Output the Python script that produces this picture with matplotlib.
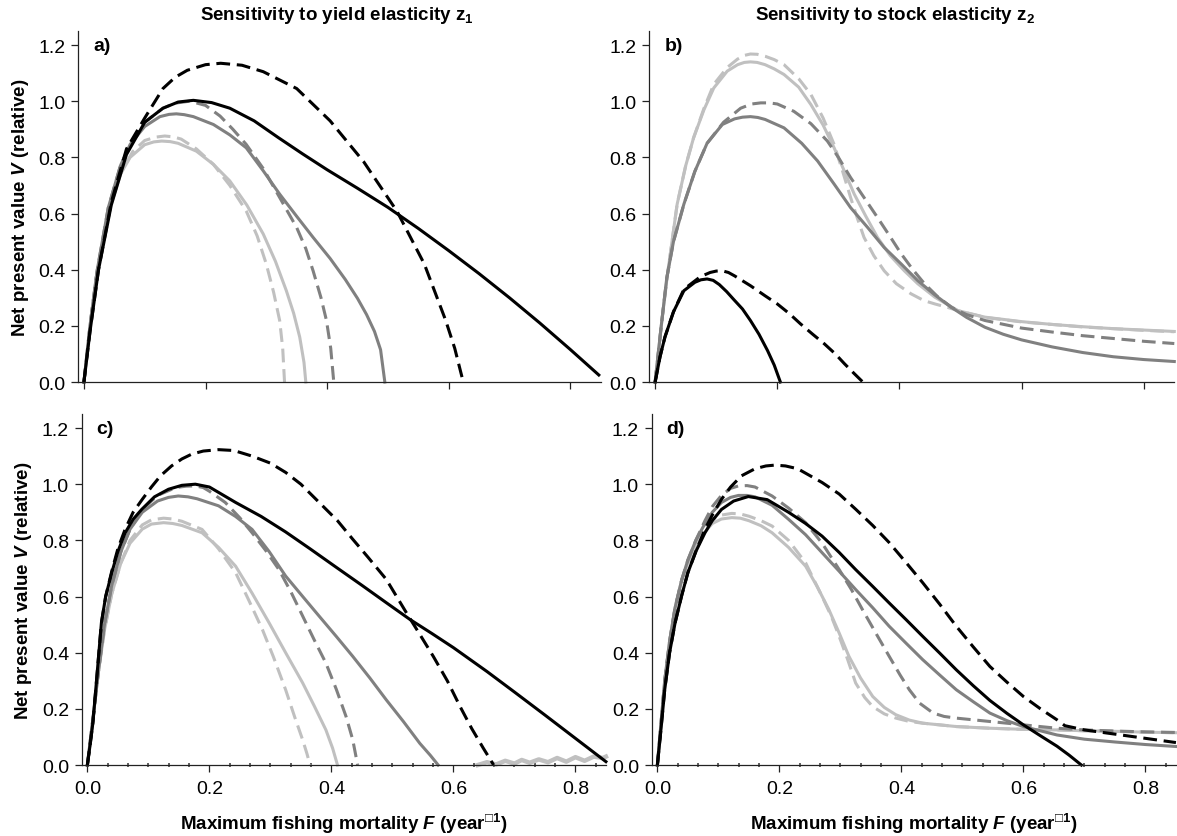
import matplotlib
matplotlib.use("Agg")
import matplotlib.pyplot as plt
from matplotlib.ticker import MultipleLocator

plt.rcParams['font.family'] = ['Liberation Sans', 'DejaVu Sans']
plt.rcParams['mathtext.fontset'] = 'custom'
plt.rcParams['mathtext.rm'] = 'Liberation Sans:bold'
plt.rcParams['mathtext.bf'] = 'Liberation Sans:bold'
plt.rcParams['mathtext.it'] = 'Liberation Sans:italic:bold'

# ---- panel a: yield elasticity z1 ----
a_black_F = [0, 0.01, 0.024, 0.045, 0.07, 0.1, 0.13, 0.155, 0.18, 0.21, 0.24, 0.28, 0.32, 0.36, 0.40, 0.45,
             0.5, 0.55, 0.6, 0.65, 0.7, 0.75, 0.8, 0.847]
a_black_V = [0, 0.18, 0.40, 0.63, 0.81, 0.925, 0.975, 0.997, 1.003, 0.995, 0.975, 0.93, 0.87, 0.812, 0.756, 0.69,
             0.622, 0.547, 0.468, 0.386, 0.3, 0.21, 0.116, 0.025]
a_blackd_F = [0, 0.01, 0.024, 0.045, 0.07, 0.1, 0.13, 0.15, 0.17, 0.2, 0.225, 0.26, 0.295, 0.35, 0.405, 0.46, 0.515,
              0.56, 0.595, 0.61, 0.624]
a_blackd_V = [0, 0.18, 0.40, 0.64, 0.83, 0.94, 1.045, 1.085, 1.11, 1.13, 1.135, 1.128, 1.105, 1.045, 0.93, 0.785,
              0.608, 0.42, 0.22, 0.12, 0.0]
a_gray_F = [0, 0.01, 0.022, 0.04, 0.06, 0.076, 0.1, 0.125, 0.14, 0.152, 0.165, 0.18, 0.213, 0.24, 0.267, 0.295,
            0.322, 0.35, 0.377, 0.405, 0.43, 0.45, 0.465, 0.478, 0.488, 0.495]
a_gray_V = [0, 0.2, 0.4, 0.62, 0.77, 0.846, 0.91, 0.945, 0.953, 0.955, 0.952, 0.945, 0.917, 0.88, 0.834, 0.752,
            0.669, 0.59, 0.515, 0.44, 0.365, 0.298, 0.24, 0.18, 0.115, 0.0]
a_grayd_F = [0, 0.01, 0.022, 0.04, 0.06, 0.08, 0.1, 0.13, 0.15, 0.174, 0.2, 0.224, 0.245, 0.267, 0.295, 0.322,
             0.35, 0.365, 0.377, 0.39, 0.399, 0.406, 0.411]
a_grayd_V = [0, 0.2, 0.4, 0.62, 0.77, 0.86, 0.925, 0.975, 0.993, 1.0, 0.985, 0.947, 0.9, 0.846, 0.76, 0.657,
             0.55, 0.475, 0.396, 0.3, 0.219, 0.12, 0.0]
a_light_F = [0, 0.01, 0.02, 0.04, 0.06, 0.076, 0.1, 0.115, 0.128, 0.142, 0.155, 0.185, 0.213, 0.24, 0.268, 0.295,
             0.315, 0.333, 0.345, 0.355, 0.362, 0.365]
a_light_V = [0, 0.2, 0.37, 0.6, 0.74, 0.8, 0.845, 0.855, 0.858, 0.856, 0.85, 0.822, 0.775, 0.716, 0.63, 0.527,
             0.43, 0.325, 0.245, 0.16, 0.07, 0.0]
a_lightd_F = [0, 0.01, 0.02, 0.04, 0.06, 0.08, 0.1, 0.118, 0.133, 0.147, 0.16, 0.185, 0.213, 0.24, 0.267, 0.285,
              0.3, 0.312, 0.322, 0.327, 0.33]
a_lightd_V = [0, 0.2, 0.37, 0.6, 0.74, 0.82, 0.86, 0.872, 0.876, 0.873, 0.865, 0.83, 0.775, 0.7, 0.609, 0.52,
              0.42, 0.32, 0.219, 0.12, 0.0]

# ---- panel b: stock elasticity z2 ----
b_black_F = [0, 0.008, 0.016, 0.03, 0.047, 0.065, 0.075, 0.085, 0.095, 0.105, 0.117, 0.129, 0.143, 0.156, 0.17,
             0.184, 0.195, 0.205]
b_black_V = [0, 0.09, 0.16, 0.25, 0.325, 0.355, 0.364, 0.367, 0.362, 0.347, 0.322, 0.293, 0.26, 0.219, 0.17, 0.112,
             0.06, 0.0]
b_blackd_F = [0, 0.008, 0.016, 0.03, 0.047, 0.074, 0.09, 0.1, 0.11, 0.12, 0.13, 0.156, 0.18, 0.2, 0.22, 0.238, 0.258,
              0.277, 0.295, 0.31, 0.325, 0.34]
b_blackd_V = [0, 0.09, 0.16, 0.25, 0.33, 0.375, 0.39, 0.395, 0.396, 0.39, 0.378, 0.343, 0.307, 0.278, 0.243, 0.207,
              0.17, 0.136, 0.1, 0.065, 0.032, 0.0]
b_gray_F = [0, 0.01, 0.019, 0.03, 0.047, 0.065, 0.085, 0.11, 0.13, 0.143, 0.156, 0.168, 0.18, 0.211, 0.24, 0.266,
            0.293, 0.32, 0.348, 0.375, 0.403, 0.43, 0.458, 0.485, 0.51, 0.54, 0.57, 0.6, 0.65, 0.7, 0.75, 0.8, 0.85]
b_gray_V = [0, 0.2, 0.37, 0.5, 0.633, 0.75, 0.85, 0.917, 0.937, 0.943, 0.945, 0.942, 0.935, 0.905, 0.85, 0.787,
            0.705, 0.621, 0.55, 0.479, 0.42, 0.361, 0.31, 0.266, 0.23, 0.195, 0.17, 0.15, 0.125, 0.105, 0.09, 0.08, 0.073]
b_grayd_F = [0, 0.01, 0.019, 0.03, 0.047, 0.065, 0.085, 0.112, 0.14, 0.158, 0.173, 0.187, 0.2, 0.227, 0.255, 0.282,
             0.3, 0.32, 0.342, 0.364, 0.384, 0.403, 0.422, 0.441, 0.462, 0.485, 0.51, 0.54, 0.6, 0.65, 0.7, 0.75, 0.8,
             0.85]
b_grayd_V = [0, 0.2, 0.37, 0.5, 0.633, 0.75, 0.85, 0.925, 0.975, 0.99, 0.994, 0.994, 0.99, 0.964, 0.92, 0.858,
             0.8, 0.728, 0.657, 0.586, 0.52, 0.456, 0.4, 0.35, 0.305, 0.266, 0.24, 0.219, 0.192, 0.178, 0.165, 0.155,
             0.145, 0.137]
b_light_F = [0, 0.01, 0.02, 0.036, 0.05, 0.063, 0.08, 0.096, 0.118, 0.135, 0.146, 0.156, 0.167, 0.18, 0.195, 0.211,
             0.235, 0.255, 0.275, 0.293, 0.31, 0.326, 0.345, 0.364, 0.385, 0.408, 0.43, 0.458, 0.496, 0.54, 0.6, 0.65,
             0.7, 0.75, 0.8, 0.85]
b_light_V = [0, 0.2, 0.38, 0.633, 0.77, 0.87, 0.97, 1.047, 1.107, 1.13, 1.138, 1.14, 1.138, 1.13, 1.115, 1.095,
             1.05, 0.988, 0.915, 0.834, 0.75, 0.669, 0.59, 0.515, 0.45, 0.396, 0.35, 0.302, 0.254, 0.231, 0.215, 0.205,
             0.197, 0.19, 0.185, 0.18]
b_lightd_F = [0, 0.01, 0.02, 0.036, 0.05, 0.063, 0.08, 0.096, 0.118, 0.135, 0.146, 0.156, 0.167, 0.18, 0.195, 0.211,
              0.235, 0.255, 0.275, 0.293, 0.307, 0.32, 0.33, 0.342, 0.358, 0.375, 0.395, 0.419, 0.44, 0.458, 0.48,
              0.496, 0.54, 0.6, 0.7, 0.8, 0.85]
b_lightd_V = [0, 0.2, 0.38, 0.633, 0.77, 0.87, 0.975, 1.06, 1.12, 1.15, 1.163, 1.168, 1.167, 1.16, 1.148, 1.13,
              1.08, 1.024, 0.94, 0.846, 0.75, 0.657, 0.59, 0.515, 0.45, 0.396, 0.35, 0.314, 0.29, 0.278, 0.265, 0.254,
              0.23, 0.214, 0.196, 0.184, 0.179]

# ---- panel c ----
c_black_F = [0, 0.005, 0.009, 0.015, 0.023, 0.03, 0.04, 0.05, 0.062, 0.075, 0.089, 0.11, 0.133, 0.155, 0.177, 0.2,
             0.243, 0.285, 0.325, 0.365, 0.408, 0.45, 0.49, 0.529, 0.565, 0.6, 0.655, 0.7, 0.75, 0.8, 0.85]
c_black_V = [0, 0.08, 0.149, 0.3, 0.506, 0.6, 0.685, 0.76, 0.827, 0.875, 0.91, 0.955, 0.982, 0.996, 1.0, 0.99,
             0.935, 0.885, 0.83, 0.77, 0.704, 0.64, 0.578, 0.518, 0.468, 0.418, 0.333, 0.26, 0.178, 0.095, 0.012]
c_blackd_F = [0, 0.005, 0.009, 0.015, 0.023, 0.03, 0.04, 0.05, 0.062, 0.075, 0.09, 0.105, 0.12, 0.138, 0.155, 0.171,
              0.19, 0.215, 0.24, 0.27, 0.3, 0.325, 0.35, 0.38, 0.41, 0.435, 0.46, 0.49, 0.523, 0.545, 0.567, 0.59,
              0.611, 0.63, 0.649, 0.666]
c_blackd_V = [0, 0.08, 0.149, 0.3, 0.506, 0.6, 0.69, 0.77, 0.84, 0.9, 0.946, 0.99, 1.03, 1.065, 1.09, 1.107,
              1.118, 1.123, 1.12, 1.1, 1.075, 1.042, 1.0, 0.935, 0.87, 0.804, 0.74, 0.661, 0.542, 0.465, 0.387, 0.3,
              0.208, 0.13, 0.06, 0.0]
c_gray_F = [0, 0.005, 0.01, 0.018, 0.028, 0.04, 0.055, 0.07, 0.09, 0.115, 0.133, 0.149, 0.165, 0.18, 0.215, 0.243,
            0.27, 0.298, 0.325, 0.353, 0.38, 0.408, 0.435, 0.463, 0.49, 0.518, 0.545, 0.562, 0.575]
c_gray_V = [0, 0.09, 0.18, 0.33, 0.5, 0.64, 0.76, 0.84, 0.9, 0.94, 0.953, 0.958, 0.955, 0.948, 0.923, 0.885,
            0.839, 0.76, 0.673, 0.6, 0.53, 0.458, 0.387, 0.31, 0.232, 0.155, 0.077, 0.035, 0.0]
c_grayd_F = [0, 0.005, 0.01, 0.018, 0.028, 0.04, 0.055, 0.07, 0.09, 0.115, 0.145, 0.162, 0.177, 0.19, 0.2, 0.226,
             0.25, 0.27, 0.292, 0.314, 0.334, 0.353, 0.372, 0.391, 0.408, 0.424, 0.435, 0.443]
c_grayd_V = [0, 0.09, 0.18, 0.33, 0.5, 0.64, 0.76, 0.84, 0.91, 0.96, 0.988, 0.993, 0.994, 0.988, 0.975, 0.935,
             0.88, 0.827, 0.765, 0.696, 0.615, 0.53, 0.445, 0.363, 0.27, 0.173, 0.09, 0.0]
c_light_F = [0, 0.005, 0.01, 0.018, 0.028, 0.04, 0.055, 0.07, 0.09, 0.105, 0.125, 0.14, 0.155, 0.188, 0.215, 0.243,
             0.27, 0.298, 0.325, 0.353, 0.372, 0.391, 0.402, 0.41]
c_light_V = [0, 0.09, 0.18, 0.33, 0.48, 0.61, 0.72, 0.79, 0.84, 0.858, 0.863, 0.86, 0.853, 0.827, 0.775, 0.708,
             0.612, 0.506, 0.4, 0.292, 0.21, 0.125, 0.06, 0.0]
c_lightd_F = [0, 0.005, 0.01, 0.018, 0.028, 0.04, 0.055, 0.07, 0.09, 0.105, 0.125, 0.14, 0.155, 0.188, 0.215, 0.243,
              0.265, 0.287, 0.305, 0.325, 0.34, 0.353, 0.36, 0.365]
c_lightd_V = [0, 0.09, 0.18, 0.33, 0.48, 0.61, 0.72, 0.8, 0.855, 0.873, 0.879, 0.876, 0.868, 0.839, 0.77, 0.685,
              0.585, 0.482, 0.385, 0.268, 0.17, 0.089, 0.04, 0.0]
# light-grey solid reappears as a ragged trace near zero at high F
c_tail_F = [0.64, 0.655, 0.67, 0.685, 0.7, 0.712, 0.725, 0.74, 0.755, 0.77, 0.785, 0.8, 0.815, 0.83, 0.845, 0.85]
c_tail_V = [0.0, 0.01, 0.002, 0.015, 0.005, 0.018, 0.008, 0.02, 0.01, 0.025, 0.012, 0.028, 0.015, 0.03, 0.025, 0.03]

# ---- panel d ----
d_black_F = [0, 0.006, 0.012, 0.02, 0.029, 0.04, 0.05, 0.063, 0.078, 0.09, 0.105, 0.125, 0.149, 0.18, 0.215, 0.243,
             0.27, 0.298, 0.325, 0.353, 0.38, 0.408, 0.435, 0.463, 0.49, 0.518, 0.545, 0.573, 0.6, 0.628, 0.655,
             0.675, 0.695]
d_black_V = [0, 0.13, 0.268, 0.4, 0.506, 0.605, 0.685, 0.76, 0.827, 0.87, 0.91, 0.94, 0.956, 0.945, 0.9, 0.86,
             0.815, 0.757, 0.696, 0.636, 0.577, 0.517, 0.458, 0.398, 0.339, 0.282, 0.23, 0.184, 0.143, 0.104, 0.067,
             0.035, 0.0]
d_blackd_F = [0, 0.006, 0.012, 0.02, 0.029, 0.04, 0.05, 0.063, 0.078, 0.09, 0.105, 0.12, 0.138, 0.16, 0.178, 0.193,
              0.21, 0.23, 0.27, 0.298, 0.325, 0.353, 0.38, 0.408, 0.435, 0.463, 0.49, 0.518, 0.545, 0.573, 0.6, 0.628,
              0.655, 0.668, 0.7, 0.75, 0.8, 0.85]
d_blackd_V = [0, 0.13, 0.268, 0.4, 0.506, 0.605, 0.685, 0.76, 0.84, 0.89, 0.946, 0.99, 1.03, 1.055, 1.065, 1.068,
              1.065, 1.055, 1.006, 0.965, 0.911, 0.853, 0.792, 0.72, 0.649, 0.572, 0.494, 0.42, 0.351, 0.295, 0.244,
              0.2, 0.161, 0.14, 0.125, 0.11, 0.095, 0.08]
d_gray_F = [0, 0.006, 0.012, 0.02, 0.029, 0.04, 0.05, 0.063, 0.078, 0.09, 0.105, 0.12, 0.133, 0.147, 0.16, 0.188,
            0.215, 0.243, 0.27, 0.298, 0.325, 0.353, 0.38, 0.408, 0.435, 0.463, 0.49, 0.518, 0.545, 0.573, 0.6, 0.655,
            0.7, 0.75, 0.8, 0.85]
d_gray_V = [0, 0.15, 0.3, 0.44, 0.56, 0.66, 0.73, 0.8, 0.86, 0.9, 0.935, 0.953, 0.96, 0.96, 0.955, 0.925,
            0.875, 0.82, 0.756, 0.69, 0.625, 0.56, 0.494, 0.433, 0.375, 0.32, 0.268, 0.225, 0.185, 0.158, 0.137, 0.107,
            0.092, 0.082, 0.073, 0.066]
d_grayd_F = [0, 0.006, 0.012, 0.02, 0.029, 0.04, 0.05, 0.063, 0.078, 0.09, 0.105, 0.12, 0.133, 0.147, 0.16, 0.188,
             0.215, 0.243, 0.27, 0.298, 0.318, 0.336, 0.358, 0.38, 0.398, 0.413, 0.43, 0.452, 0.47, 0.49, 0.545, 0.6,
             0.655, 0.7, 0.75, 0.8, 0.85]
d_grayd_V = [0, 0.15, 0.3, 0.44, 0.56, 0.66, 0.73, 0.8, 0.87, 0.92, 0.96, 0.985, 0.994, 0.995, 0.99, 0.958,
             0.915, 0.863, 0.79, 0.696, 0.625, 0.554, 0.47, 0.387, 0.32, 0.268, 0.22, 0.185, 0.173, 0.167, 0.155, 0.143,
             0.131, 0.125, 0.121, 0.118, 0.116]
d_light_F = [0, 0.006, 0.012, 0.02, 0.029, 0.04, 0.05, 0.063, 0.078, 0.09, 0.105, 0.122, 0.136, 0.15, 0.17, 0.188,
             0.215, 0.243, 0.262, 0.281, 0.298, 0.314, 0.333, 0.353, 0.372, 0.391, 0.413, 0.435, 0.49, 0.545, 0.6,
             0.655, 0.7, 0.75, 0.8, 0.85]
d_light_V = [0, 0.15, 0.3, 0.44, 0.56, 0.66, 0.72, 0.78, 0.83, 0.86, 0.876, 0.881, 0.879, 0.87, 0.852, 0.827,
             0.775, 0.708, 0.635, 0.554, 0.47, 0.387, 0.31, 0.244, 0.205, 0.179, 0.16, 0.149, 0.137, 0.131, 0.127,
             0.125, 0.122, 0.12, 0.117, 0.115]
d_lightd_F = [0, 0.006, 0.012, 0.02, 0.029, 0.04, 0.05, 0.063, 0.078, 0.09, 0.105, 0.122, 0.136, 0.15, 0.17, 0.188,
              0.215, 0.243, 0.27, 0.285, 0.298, 0.312, 0.325, 0.34, 0.353, 0.372, 0.391, 0.413, 0.435, 0.49, 0.545,
              0.6, 0.655, 0.7, 0.75, 0.8, 0.85]
d_lightd_V = [0, 0.15, 0.3, 0.44, 0.56, 0.66, 0.72, 0.79, 0.845, 0.875, 0.89, 0.896, 0.894, 0.886, 0.87, 0.851,
              0.8, 0.72, 0.6, 0.53, 0.458, 0.375, 0.292, 0.24, 0.208, 0.182, 0.167, 0.155, 0.149, 0.137, 0.131, 0.127,
              0.125, 0.122, 0.12, 0.117, 0.115]

BLACK = '#000000'
GRAY = '#808080'
LIGHT = '#c0c0c0'


def draw_panel(ax, series, letter, bottom_row, left_col):
    for F, V, col, style in series:
        if style == 'dash':
            ax.plot(F, V, color=col, lw=2.2, ls=(0, (4.5, 2.2)), clip_on=False)
        elif style == 'rough':
            ax.plot(F, V, color=col, lw=3.2, clip_on=False)
        else:
            ax.plot(F, V, color=col, lw=2.2, clip_on=False)
    ax.set_xlim(-0.0095, 0.85)
    ax.set_ylim(0, 1.25)
    for s in ['top', 'right']:
        ax.spines[s].set_visible(False)
    for s in ['left', 'bottom']:
        ax.spines[s].set_linewidth(0.9)
        ax.spines[s].set_color('#222222')
    ax.set_yticks([0, 0.2, 0.4, 0.6, 0.8, 1.0, 1.2])
    ax.set_yticklabels(['0.0', '0.2', '0.4', '0.6', '0.8', '1.0', '1.2'])
    ax.set_xticks([0, 0.2, 0.4, 0.6, 0.8])
    ax.tick_params(axis='both', which='major', direction='out', length=5, width=0.9,
                   labelsize=14, pad=4, color='#222222')
    ax.text(0.015, 1.2, letter, fontsize=14, fontweight='bold', va='center', ha='left')
    if bottom_row:
        ax.set_xticklabels(['0.0', '0.2', '0.4', '0.6', '0.8'])
        ax.tick_params(axis='x', which='major', pad=6)
        ax.xaxis.set_minor_locator(MultipleLocator(0.2 / 6))
        ax.tick_params(axis='x', which='minor', direction='inout', length=3, width=1.2, color='#444444')
        ax.set_xlabel('Maximum fishing mortality $F$ (year$^{□1}$)', fontsize=13.5, fontweight='bold')
        ax.xaxis.set_label_coords(0.5, -0.131)
    else:
        ax.set_xticklabels([])
    if left_col:
        ax.set_ylabel('Net present value $V$ (relative)', fontsize=13.5, fontweight='bold')
        ax.yaxis.set_label_coords(-0.09, 0.5)


fig = plt.figure(figsize=(11.77, 8.37), dpi=100)
ax_a = fig.add_axes([0.0664, 0.5424, 0.4439, 0.4194])
ax_b = fig.add_axes([0.5517, 0.5424, 0.4460, 0.4194])
ax_c = fig.add_axes([0.0693, 0.0848, 0.4455, 0.4194])
ax_d = fig.add_axes([0.5536, 0.0848, 0.4455, 0.4194])

draw_panel(ax_a, [(a_lightd_F, a_lightd_V, LIGHT, 'dash'), (a_light_F, a_light_V, LIGHT, 'solid'),
                  (a_grayd_F, a_grayd_V, GRAY, 'dash'), (a_gray_F, a_gray_V, GRAY, 'solid'),
                  (a_blackd_F, a_blackd_V, BLACK, 'dash'), (a_black_F, a_black_V, BLACK, 'solid')],
           'a)', False, True)
draw_panel(ax_b, [(b_lightd_F, b_lightd_V, LIGHT, 'dash'), (b_light_F, b_light_V, LIGHT, 'solid'),
                  (b_grayd_F, b_grayd_V, GRAY, 'dash'), (b_gray_F, b_gray_V, GRAY, 'solid'),
                  (b_blackd_F, b_blackd_V, BLACK, 'dash'), (b_black_F, b_black_V, BLACK, 'solid')],
           'b)', False, False)
draw_panel(ax_c, [(c_tail_F, c_tail_V, LIGHT, 'rough'),
                  (c_lightd_F, c_lightd_V, LIGHT, 'dash'), (c_light_F, c_light_V, LIGHT, 'solid'),
                  (c_grayd_F, c_grayd_V, GRAY, 'dash'), (c_gray_F, c_gray_V, GRAY, 'solid'),
                  (c_blackd_F, c_blackd_V, BLACK, 'dash'), (c_black_F, c_black_V, BLACK, 'solid')],
           'c)', True, True)
draw_panel(ax_d, [(d_lightd_F, d_lightd_V, LIGHT, 'dash'), (d_light_F, d_light_V, LIGHT, 'solid'),
                  (d_grayd_F, d_grayd_V, GRAY, 'dash'), (d_gray_F, d_gray_V, GRAY, 'solid'),
                  (d_blackd_F, d_blackd_V, BLACK, 'dash'), (d_black_F, d_black_V, BLACK, 'solid')],
           'd)', True, False)

fig.text(337 / 1177, 1 - 16 / 837, 'Sensitivity to yield elasticity z$_1$', fontsize=13.5,
         fontweight='bold', ha='center', va='center')
fig.text(895 / 1177, 1 - 16 / 837, 'Sensitivity to stock elasticity z$_2$', fontsize=13.5,
         fontweight='bold', ha='center', va='center')

fig.savefig('out.png', dpi=100)
